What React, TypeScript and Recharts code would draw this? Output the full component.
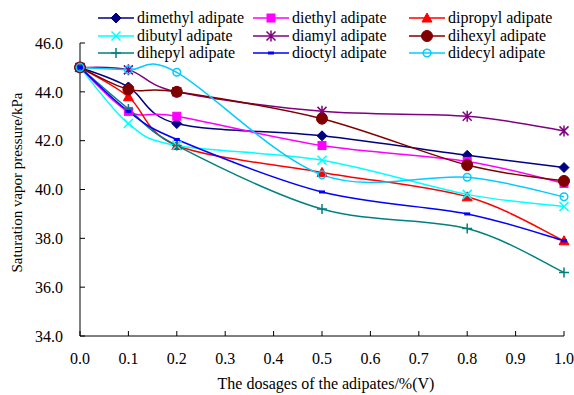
import React from "react";
import { LineChart, Line, XAxis, YAxis } from "recharts";

const dosages = [0, 0.1, 0.2, 0.5, 0.8, 1.0];
const dimethyl = [45.0, 44.2, 42.7, 42.2, 41.4, 40.9];
const diethyl = [45.0, 43.2, 43.0, 41.8, 41.15, 40.25];
const dipropyl = [45.0, 43.8, 41.8, 40.7, 39.7, 37.9];
const dibutyl = [45.0, 42.7, 41.8, 41.2, 39.8, 39.3];
const diamyl = [45.0, 44.9, 44.0, 43.2, 43.0, 42.4];
const dihexyl = [45.0, 44.1, 44.0, 42.9, 41.0, 40.35];
const dihepyl = [45.0, 43.3, 41.8, 39.2, 38.4, 36.6];
const dioctyl = [45.0, 43.2, 42.05, 39.9, 39.0, 37.9];
const didecyl = [45.0, 44.9, 44.8, 40.6, 40.5, 39.7];

const xTicks = [0, 0.1, 0.2, 0.3, 0.4, 0.5, 0.6, 0.7, 0.8, 0.9, 1.0];
const yTicks = [34, 36, 38, 40, 42, 44, 46];

type Shape = "diamond" | "square" | "triangle" | "x" | "asterisk" | "circle" | "plus" | "dash" | "ocircle";

const series: { key: string; name: string; color: string; shape: Shape; values: number[] }[] = [
  { key: "dimethyl", name: "dimethyl adipate", color: "#000080", shape: "diamond", values: dimethyl },
  { key: "diethyl", name: "diethyl adipate", color: "#FF00FF", shape: "square", values: diethyl },
  { key: "dipropyl", name: "dipropyl adipate", color: "#FF0000", shape: "triangle", values: dipropyl },
  { key: "dibutyl", name: "dibutyl adipate", color: "#00FFFF", shape: "x", values: dibutyl },
  { key: "diamyl", name: "diamyl adipate", color: "#800080", shape: "asterisk", values: diamyl },
  { key: "dihexyl", name: "dihexyl adipate", color: "#800000", shape: "circle", values: dihexyl },
  { key: "dihepyl", name: "dihepyl adipate", color: "#008080", shape: "plus", values: dihepyl },
  { key: "dioctyl", name: "dioctyl adipate", color: "#0000FF", shape: "dash", values: dioctyl },
  { key: "didecyl", name: "didecyl adipate", color: "#00CCFF", shape: "ocircle", values: didecyl },
];

const data = dosages.map((d, i) => {
  const row: Record<string, number> = { x: d };
  series.forEach((s) => (row[s.key] = s.values[i]));
  return row;
});

function smoothCurve(context: any) {
  let pts: [number, number][] = [];
  return {
    areaStart() {},
    areaEnd() {},
    lineStart() {
      pts = [];
    },
    point(x: number, y: number) {
      pts.push([+x, +y]);
    },
    lineEnd() {
      const n = pts.length;
      if (!n) return;
      context.moveTo(pts[0][0], pts[0][1]);
      for (let i = 0; i < n - 1; i++) {
        const p0 = pts[Math.max(0, i - 1)];
        const p1 = pts[i];
        const p2 = pts[i + 1];
        const p3 = pts[Math.min(n - 1, i + 2)];
        const c1x = p1[0] + (p2[0] - p0[0]) / 6;
        const c1y = p1[1] + (p2[1] - p0[1]) / 6;
        const c2x = p2[0] - (p3[0] - p1[0]) / 6;
        const c2y = p2[1] - (p3[1] - p1[1]) / 6;
        context.bezierCurveTo(c1x, c1y, c2x, c2y, p2[0], p2[1]);
      }
    },
  };
}

function Marker({ cx, cy, shape, color }: { cx: number; cy: number; shape: Shape; color: string }) {
  switch (shape) {
    case "diamond":
      return <path d={`M${cx},${cy - 5}L${cx + 5},${cy}L${cx},${cy + 5}L${cx - 5},${cy}Z`} fill={color} stroke={color} />;
    case "square":
      return <rect x={cx - 4} y={cy - 4} width={8} height={8} fill={color} stroke={color} />;
    case "triangle":
      return <path d={`M${cx},${cy - 5}L${cx + 5},${cy + 4}L${cx - 5},${cy + 4}Z`} fill={color} stroke={color} />;
    case "x":
      return (
        <path d={`M${cx - 4.5},${cy - 4.5}L${cx + 4.5},${cy + 4.5}M${cx - 4.5},${cy + 4.5}L${cx + 4.5},${cy - 4.5}`} stroke={color} strokeWidth={1.5} fill="none" />
      );
    case "asterisk":
      return (
        <path
          d={`M${cx - 4.5},${cy - 4.5}L${cx + 4.5},${cy + 4.5}M${cx - 4.5},${cy + 4.5}L${cx + 4.5},${cy - 4.5}M${cx},${cy - 5.5}L${cx},${cy + 5.5}`}
          stroke={color}
          strokeWidth={1.5}
          fill="none"
        />
      );
    case "circle":
      return <circle cx={cx} cy={cy} r={5.5} fill={color} stroke={color} />;
    case "plus":
      return <path d={`M${cx - 5},${cy}L${cx + 5},${cy}M${cx},${cy - 5}L${cx},${cy + 5}`} stroke={color} strokeWidth={1.5} fill="none" />;
    case "dash":
      return <rect x={cx - 3} y={cy - 1.5} width={6} height={3} fill={color} />;
    case "ocircle":
      return <circle cx={cx} cy={cy} r={3.8} fill="none" stroke={color} strokeWidth={1.5} />;
  }
  return null;
}

const FONT = "'Liberation Serif', 'Times New Roman', serif";

const legendCols = [98, 253, 409];
const legendRows = [18, 36, 53];

function LegendOverlay() {
  return (
    <>
      {series.map((s, i) => {
        const col = i % 3;
        const row = Math.floor(i / 3);
        const left = legendCols[col];
        const top = legendRows[row];
        return (
          <div
            key={s.key}
            style={{ position: "absolute", left, top: top - 9, height: 18, display: "flex", alignItems: "center", whiteSpace: "nowrap" }}
          >
            <svg width={36} height={18} style={{ display: "block" }}>
              <line x1={0} y1={9} x2={36} y2={9} stroke={s.color} strokeWidth={1.5} />
              <Marker cx={18} cy={9} shape={s.shape} color={s.color} />
            </svg>
            <span style={{ fontFamily: FONT, fontSize: 16, color: "#000", marginLeft: 3, lineHeight: "18px" }}>{s.name}</span>
          </div>
        );
      })}
    </>
  );
}

export default function App() {
  return (
    <div style={{ position: "absolute", left: 0, top: 0, width: 574, height: 395, background: "#fff" }}>
      <LineChart width={574} height={395} data={data} margin={{ top: 43, right: 10, bottom: 0, left: 0 }}>
        <XAxis
          dataKey="x"
          type="number"
          domain={[0, 1]}
          ticks={xTicks}
          tickFormatter={(v: number) => v.toFixed(1)}
          height={59}
          stroke="#000"
          tickSize={-5}
          tickMargin={22}
          tick={{ fill: "#000", fontFamily: FONT, fontSize: 16 }}
          label={(props: any) => {
            const vb = props.viewBox || { x: 80, y: 336, width: 484, height: 59 };
            return (
              <text
                x={vb.x + vb.width / 2 + 4}
                y={vb.y + 47}
                textAnchor="middle"
                dominantBaseline="central"
                fontFamily={FONT}
                fontSize={16}
                fill="#000"
              >
                The dosages of the adipates/%(V)
              </text>
            );
          }}
        />
        <YAxis
          type="number"
          domain={[34, 46]}
          ticks={yTicks}
          tickFormatter={(v: number) => v.toFixed(1)}
          width={80}
          stroke="#000"
          tickSize={-5}
          tickMargin={22}
          tick={{ fill: "#000", fontFamily: FONT, fontSize: 16 }}
          label={(props: any) => {
            const vb = props.viewBox || { x: 0, y: 43, width: 80, height: 293 };
            const cx = vb.x + 17;
            const cy = vb.y + vb.height / 2 - 7;
            return (
              <text
                x={cx}
                y={cy}
                transform={`rotate(-90 ${cx} ${cy})`}
                textAnchor="middle"
                dominantBaseline="central"
                fontFamily={FONT}
                fontSize={15}
                fill="#000"
              >
                Saturation vapor pressure/kPa
              </text>
            );
          }}
        />
        {series.map((s) => (
          <Line
            key={s.key}
            dataKey={s.key}
            name={s.name}
            type={smoothCurve as any}
            stroke={s.color}
            strokeWidth={1.5}
            isAnimationActive={false}
            dot={(p: any) => <Marker key={`${s.key}-${p.index}`} cx={p.cx} cy={p.cy} shape={s.shape} color={s.color} />}
            activeDot={false}
          />
        ))}
      </LineChart>
      <LegendOverlay />
    </div>
  );
}
